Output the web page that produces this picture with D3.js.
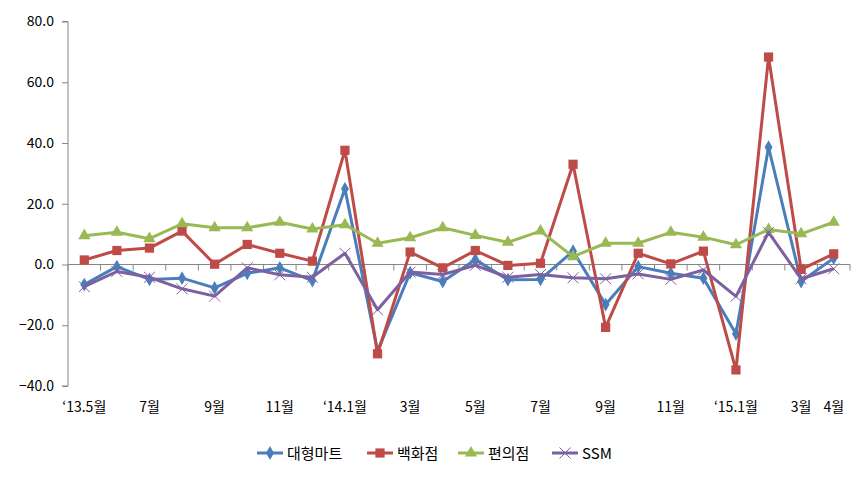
<!DOCTYPE html>
<html><head><meta charset="utf-8">
<script src="https://cdn.jsdelivr.net/npm/d3@7"></script>
<style>body{margin:0;background:#fff;}svg{display:block;font-family:"Noto Sans CJK KR","Malgun Gothic",sans-serif;}</style>
</head><body><svg id="c" width="866" height="477"></svg>
<script>
const categories = ["‘13.5월","","7월","","9월","","11월","","‘14.1월","","3월","","5월","","7월","","9월","","11월","","‘15.1월","","3월","4월"];
const seriesNames = ["대형마트","백화점","편의점","SSM"];
const hypermarket = [-6.6,-0.7,-4.9,-4.5,-7.7,-2.9,-1.1,-5.3,24.9,-28.5,-2.7,-5.6,1.6,-5.0,-4.9,4.4,-13.2,-0.7,-2.9,-4.5,-22.8,38.6,-5.6,2.1];
const deptStore = [1.5,4.6,5.4,11.0,0.1,6.6,3.7,1.1,37.6,-29.4,4.1,-1.1,4.6,-0.3,0.4,33.0,-20.7,3.7,0.2,4.4,-34.7,68.3,-1.6,3.5];
const convenience = [9.5,10.6,8.5,13.4,12.1,12.1,13.9,11.7,13.1,7.0,8.8,12.1,9.6,7.3,11.0,2.6,7.0,7.0,10.6,9.0,6.5,11.5,10.1,13.9];
const ssm = [-7.3,-2.3,-4.2,-8.0,-10.4,-1.1,-3.4,-4.2,3.7,-14.9,-2.5,-3.3,-0.3,-4.2,-3.3,-4.4,-4.7,-3.1,-4.9,-1.8,-10.5,10.6,-4.7,-1.4];
const yTicks = [-40,-20,0,20,40,60,80];

const colors = ["#4A7EBB","#BE4B48","#98B954","#7D60A0"];
const markers = ["diamond","square","triangle","x"];
const data = [hypermarket, deptStore, convenience, ssm];

const svg = d3.select("#c");
const mLeft = 68, mRight = 850, mTop = 21.5, mBottom = 386;
const x = d3.scaleBand().domain(d3.range(categories.length)).range([mLeft, mRight]);
const y = d3.scaleLinear().domain([-40, 80]).range([mBottom, mTop]);
const axisColor = "#868686";

// y axis
const ya = svg.append("g").attr("transform", `translate(${mLeft},0)`)
  .call(d3.axisLeft(y).tickValues(yTicks).tickSize(6).tickPadding(8).tickFormat(d3.format(".1f")));
ya.select(".domain").attr("stroke", axisColor).attr("d", `M-6,${y(-40)}H0V${y(80)}H-6`);
ya.selectAll(".tick line").attr("stroke", axisColor);
ya.selectAll(".tick text").attr("font-size", 14).attr("fill", "#000").attr("font-family", "'Noto Sans CJK KR',sans-serif");

// x axis at zero
const xa = svg.append("g").attr("transform", `translate(0,${y(0)})`);
xa.append("line").attr("x1", mLeft).attr("x2", mRight).attr("stroke", axisColor).attr("stroke-width", 1);
xa.selectAll("line.t").data(d3.range(categories.length + 1)).join("line").attr("class","t")
  .attr("x1", i => i < categories.length ? x(i) : mRight).attr("x2", i => i < categories.length ? x(i) : mRight)
  .attr("y1", 0).attr("y2", 6).attr("stroke", axisColor);
svg.append("g").selectAll("text").data(categories).join("text")
  .attr("x", (d, i) => x(i) + x.bandwidth() / 2).attr("y", 412)
  .attr("text-anchor", "middle").attr("font-size", 14).attr("fill", "#000").text(d => d);

const line = d3.line().x((d, i) => x(i) + x.bandwidth() / 2).y(d => y(d));
const sym = {
  diamond: d3.symbol().type(d3.symbolDiamond).size(55),
  square: d3.symbol().type(d3.symbolSquare).size(85),
  triangle: d3.symbol().type(d3.symbolTriangle).size(65),
  x: d3.symbol().type(d3.symbolTimes).size(80)
};

data.forEach((vals, s) => {
  const g = svg.append("g");
  g.append("path").datum(vals).attr("d", line).attr("fill", "none")
    .attr("stroke", colors[s]).attr("stroke-width", 3).attr("stroke-linejoin", "round");
  g.selectAll("path.m").data(vals).join("path").attr("class", "m")
    .attr("transform", (d, i) => `translate(${x(i) + x.bandwidth() / 2},${y(d)})`)
    .attr("d", sym[markers[s]])
    .attr("fill", markers[s] === "x" ? "none" : colors[s])
    .attr("stroke", colors[s]).attr("stroke-width", markers[s] === "x" ? 1 : 0);
});

// legend
const legX = [257, 367, 458, 552];
const lg = svg.append("g").attr("transform", "translate(0,453)");
seriesNames.forEach((n, s) => {
  const g = lg.append("g").attr("transform", `translate(${legX[s]},0)`);
  g.append("line").attr("x1", 0).attr("x2", 26).attr("stroke", colors[s]).attr("stroke-width", 3);
  g.append("path").attr("transform", "translate(13,0)").attr("d", sym[markers[s]])
    .attr("fill", markers[s] === "x" ? "none" : colors[s]).attr("stroke", colors[s])
    .attr("stroke-width", markers[s] === "x" ? 1 : 0);
  g.append("text").attr("x", 30).attr("y", 5.5).attr("font-size", 15).attr("fill", "#000").text(n);
});
</script></body></html>
